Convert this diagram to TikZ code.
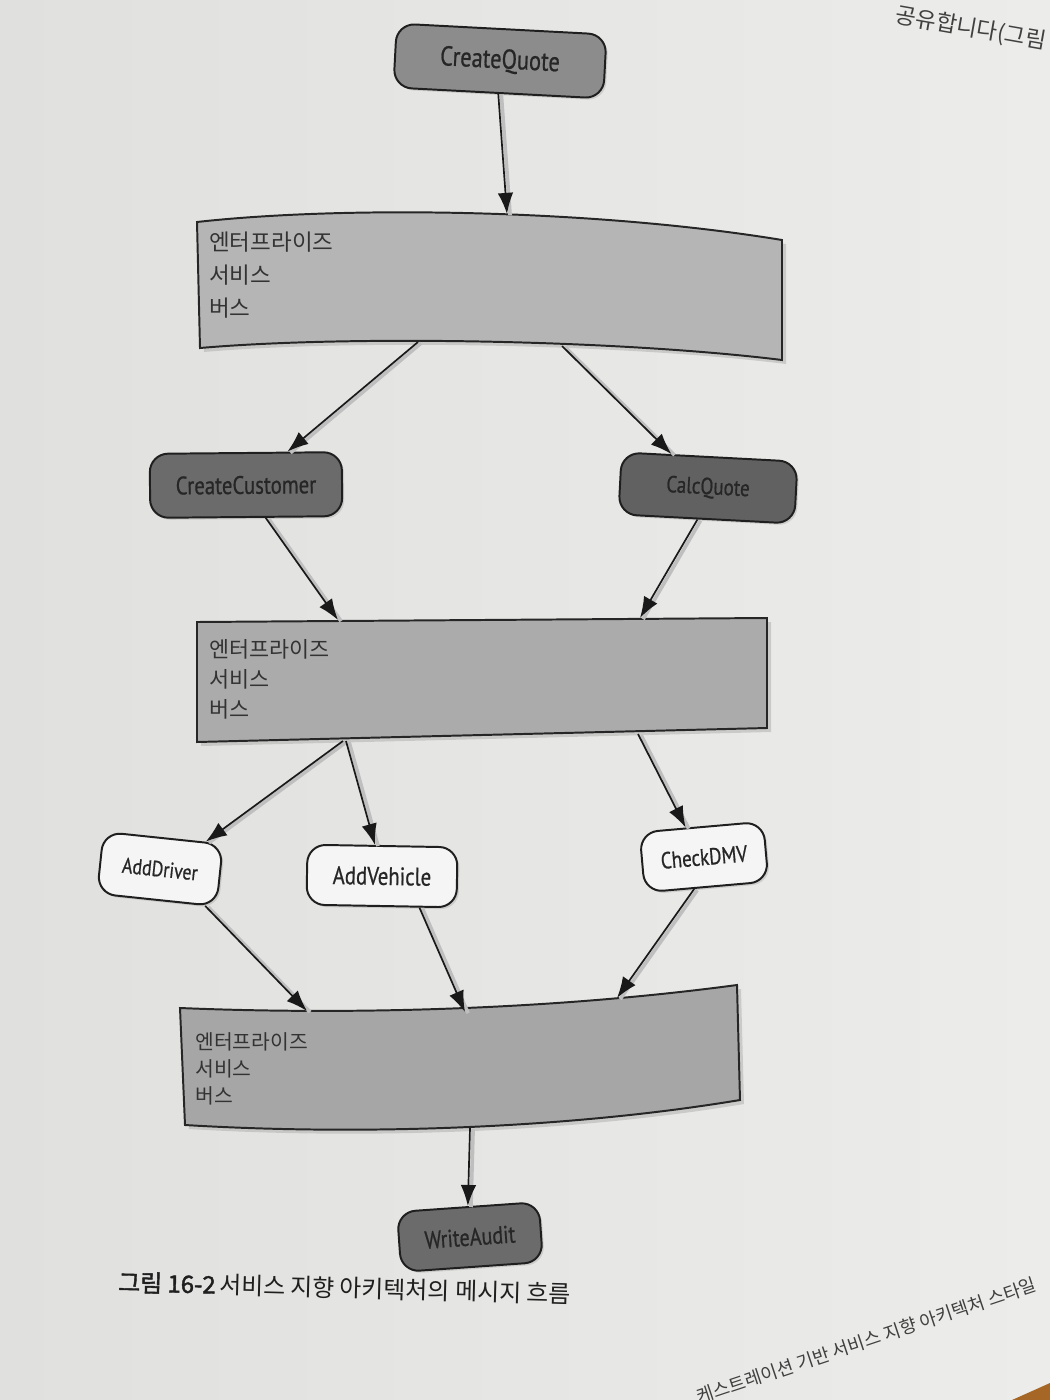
\documentclass[tikz,border=0pt]{standalone}
\usepackage{fontspec}
\setmainfont{PT Sans}
\newfontfamily\lbl[FakeStretch=0.82,FakeBold=0.7]{PT Sans}
\newfontfamily\kr{Noto Sans CJK KR}
\newfontfamily\krb[FakeBold=1.8]{Noto Sans CJK KR}
\usetikzlibrary{arrows.meta,calc,shadows}
\definecolor{page}{HTML}{ECECEA}
\definecolor{pageL}{HTML}{E0E0DE}
\definecolor{ink}{HTML}{262626}
\tikzset{
  svc/.style={rounded corners=13pt, draw=black!88, line width=1.4pt, inner sep=0pt,
    text=ink, drop shadow={opacity=0.25,shadow xshift=1.5pt,shadow yshift=-1.5pt}},
  lblf/.style={font=\lbl\fontsize{#1}{#1}\selectfont},
  busshape/.style={draw=black!85, line width=1.4pt},
  bustext/.style={anchor=north west, inner sep=0pt, align=left, text=black!80},
  conn/.style={draw=black!90, line width=1.2pt, -{Latex[length=15pt,width=11pt]},
    preaction={draw=black!25, line width=2.6pt, -, transform canvas={xshift=2.2pt,yshift=-0.8pt}}},
  pagetext/.style={inner sep=0pt, text=black!75, font=\kr\fontsize{#1}{#1}\selectfont}
}
\begin{document}
\begin{tikzpicture}[x=0.025cm,y=-0.025cm]
\useasboundingbox (0,0) rectangle (1050,1400);
\clip (0,0) rectangle (1050,1400);
\fill[left color=pageL, right color=page] (0,0) rectangle (1050,1400);
\fill[brown!75!orange!80!black] (1012,1400) -- (1050,1383) -- (1050,1400) -- cycle;

% page text
\node[pagetext=16, rotate=-10, anchor=east] (ptop) at (1046,42) {공유합니다(그림};
\node[pagetext=13, rotate=18.5, anchor=east] (pbot) at (1036,1284) {케스트레이션 기반 서비스 지향 아키텍처 스타일};

% buses
\fill[black!32, opacity=0.5] (201,226) .. controls (354,209) and (604,214) .. (786,244) -- (786,364) .. controls (624,344) and (354,339) .. (204,352) -- cycle;
\draw[busshape, fill=black!29] (197,222) .. controls (350,205) and (600,210) .. (782,240) -- (782,360) .. controls (620,340) and (350,335) .. (200,348) -- cycle;
\fill[black!32, opacity=0.5] (201,626) -- (771,622) -- (771,732) -- (201,746) -- cycle;
\draw[busshape, fill=black!33] (197,622) -- (767,618) -- (767,728) -- (197,742) -- cycle;
\fill[black!32, opacity=0.5] (184,1012) .. controls (354,1019) and (554,1014) .. (741,989) -- (744,1104) .. controls (564,1134) and (354,1139) .. (189,1129) -- cycle;
\draw[busshape, fill=black!35] (180,1008) .. controls (350,1015) and (550,1010) .. (737,985) -- (740,1100) .. controls (560,1130) and (350,1135) .. (185,1125) -- cycle;

\node[bustext, font=\kr\fontsize{16}{23.5}\selectfont] (b1) at (209,232) {엔터프라이즈\\서비스\\버스};
\node[bustext, font=\kr\fontsize{15.5}{21.5}\selectfont] (b2) at (209,639) {엔터프라이즈\\서비스\\버스};
\node[bustext, font=\kr\fontsize{14.5}{19.5}\selectfont] (b3) at (195,1032) {엔터프라이즈\\서비스\\버스};

% bus connection points
\coordinate (b1in) at (507,214);
\coordinate (b1a) at (418,342);
\coordinate (b1b) at (562,346);
\coordinate (b2a) at (338,620);
\coordinate (b2b) at (640,618);
\coordinate (b2c) at (343,741);
\coordinate (b2d) at (346,741);
\coordinate (b2e) at (638,734);
\coordinate (b3a) at (307,1011);
\coordinate (b3b) at (465,1012);
\coordinate (b3c) at (617,998);
\coordinate (b3d) at (470,1128);

% services
\node[svc, fill=black!45, lblf=19.5, minimum width=5.25cm, minimum height=1.6cm, rotate=-3] (cq) at (500,61) {CreateQuote};
\node[svc, fill=black!58, lblf=18, minimum width=4.8cm, minimum height=1.6cm, rotate=0.5] (cc) at (246,485) {CreateCustomer};
\node[svc, fill=black!62, lblf=16.5, minimum width=4.4cm, minimum height=1.55cm, rotate=-3] (calc) at (708,488) {CalcQuote};
\node[svc, fill=black!4, lblf=15.5, minimum width=3.0cm, minimum height=1.55cm, rotate=-6] (ad) at (160,869) {AddDriver};
\node[svc, fill=black!4, lblf=18, minimum width=3.75cm, minimum height=1.5cm, rotate=-1] (av) at (382,876) {AddVehicle};
\node[svc, fill=black!4, lblf=16.5, minimum width=3.1cm, minimum height=1.5cm, rotate=5] (cd) at (704,857) {CheckDMV};
\node[svc, fill=black!58, lblf=17.5, minimum width=3.55cm, minimum height=1.5cm, rotate=4] (wa) at (470,1237) {WriteAudit};

% connectors
\draw[conn] (cq.south) -- (b1in);
\draw[conn] (b1a) -- ($(cc.north)!0.43!(cc.north east)$);
\draw[conn] (b1b) -- ($(calc.north)!0.43!(calc.north west)$);
\draw[conn] ($(cc.south)!0.2!(cc.south east)$) -- (b2a);
\draw[conn] ($(calc.south)!0.1!(calc.south west)$) -- (b2b);
\draw[conn] (b2c) -- ($(ad.north)!0.7!(ad.north east)$);
\draw[conn] (b2d) -- ($(av.north)!0.1!(av.north west)$);
\draw[conn] (b2e) -- ($(cd.north)!0.25!(cd.north west)$);
\draw[conn] ($(ad.south)!0.8!(ad.south east)$) -- (b3a);
\draw[conn] ($(av.south)!0.5!(av.south east)$) -- (b3b);
\draw[conn] ($(cd.south)!0.2!(cd.south west)$) -- (b3c);
\draw[conn] (b3d) -- (wa.north);

% caption
\node[anchor=west, inner sep=0pt, rotate=-1.5, text=black!88] (cap) at (118,1282)
  {{\krb\fontsize{17}{17}\selectfont 그림 16-2}\ {\kr\fontsize{17}{17}\selectfont 서비스 지향 아키텍처의 메시지 흐름}};
\end{tikzpicture}
\end{document}
